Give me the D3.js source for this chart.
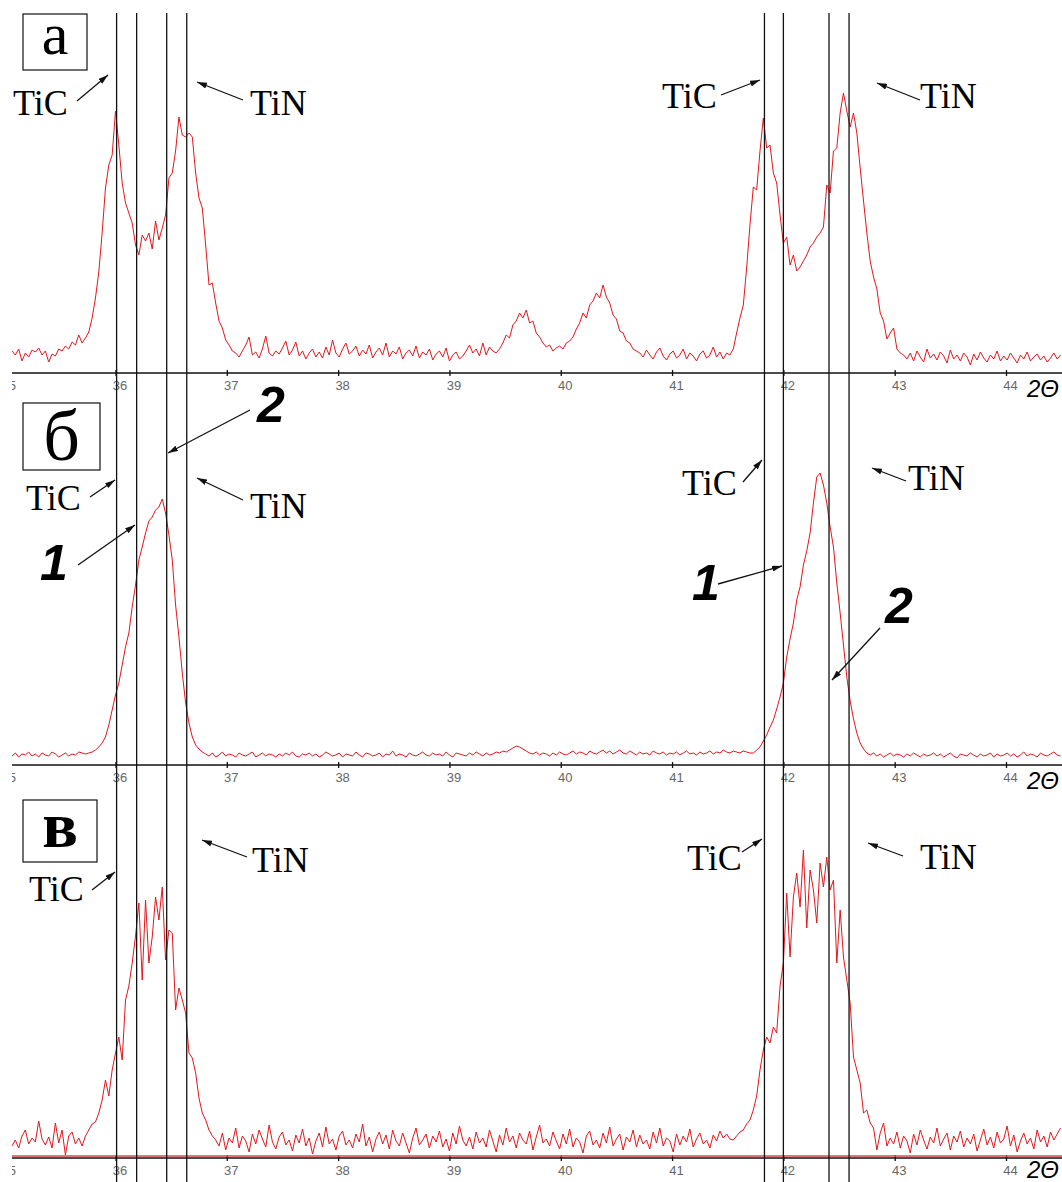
<!DOCTYPE html>
<html>
<head>
<meta charset="utf-8">
<script src="https://cdn.jsdelivr.net/npm/d3@7"></script>
<style>
  body { margin: 0; background: #fff; }
  svg { display: block; }
</style>
</head>
<body>
<div id="chart"></div>
<script>
// 2theta sampling of the three scans
var thetaStart = 35.07,
    thetaStep = 0.03;

var tickValues = [35, 36, 37, 38, 39, 40, 41, 42, 43, 44];

// vertical reference lines (TiC / TiN positions)
var markerLines = [36.01, 36.19, 36.46, 36.64, 41.83, 42.0, 42.41, 42.59];

// scan a
var intensityA = [
  22, 18, 24, 12, 20, 16, 23, 21, 25, 18, 22, 11, 19, 17, 24, 22, 27, 24, 31, 28, 38, 30,
  35, 41, 55, 75, 101, 140, 185, 208, 218, 262,
  228, 190, 170, 160, 150, 128, 118, 138, 132, 140,
  124, 152, 133, 145, 158, 195, 200, 222, 256, 238,
  236, 240, 236, 200, 175, 165, 128, 88, 90, 70,
  52, 45, 33, 28, 22,
  20, 16, 22, 28, 36, 18, 21, 15, 24, 37,
  20, 17, 22, 19, 25, 32, 18, 23, 31, 17,
  22, 14, 20, 24, 16, 21, 15, 26, 18, 33,
  20, 16, 24, 30, 19, 22, 27, 17, 23, 19,
  28, 15, 21, 25, 18, 30, 16, 22, 19, 26,
  14, 20, 23, 17, 27, 15, 21, 18, 24, 13,
  19, 22, 16, 25, 12, 18, 21, 14, 17, 22,
  28, 20, 24, 17, 30, 18, 26, 22, 20,
  24, 30, 38, 35, 48, 52, 60, 55, 63, 50,
  52, 40, 36, 30, 26, 28, 22, 25, 27, 24,
  30, 32, 36, 44, 50, 60, 55, 68, 72, 80,
  75, 88, 76, 70, 58, 54, 42, 40, 32, 30,
  24, 22,
  20, 16, 23, 18, 14, 21, 25, 17, 13, 19, 22, 15, 18, 24, 14, 20, 17, 12, 19, 22, 15, 18, 26, 16, 21, 14,
  20, 18, 24, 40, 55, 68, 105, 148, 186, 183,
  222, 255, 225, 228, 200, 190, 158, 130, 136, 108,
  118, 102, 106, 112, 118, 126, 130, 136, 140, 146,
  188, 180, 222, 225, 260, 280, 262, 246, 260, 240,
  205, 172, 140, 112, 96, 84, 60, 52, 34, 40,
  45, 24, 20,
  18, 14, 20, 12, 22, 16, 11, 24, 15, 19,
  13, 21, 17, 10, 23, 14, 18, 12, 20, 16,
  8, 19, 13, 21, 15, 11, 18, 14, 22, 12,
  17, 13, 20, 15, 10, 18, 14, 21, 12, 16,
  19, 13, 17, 11, 15, 20, 14, 18
];

// scan б
var intensityB = [
  9, 12, 8, 11, 10, 13, 9, 11, 8, 12, 10, 9, 13, 11, 8, 10, 12, 9, 11, 10, 13, 12, 11, 12,
  13, 15, 18, 22, 28, 40, 55, 70, 82, 100,
  118, 132, 158, 180, 205, 218, 232, 244, 248, 255,
  258, 266, 252, 230, 205, 160, 128, 92, 62, 42,
  28, 20, 16, 13,
  11, 9, 12, 8, 10, 13, 9, 11, 10, 8,
  12, 10, 9, 11, 13, 8, 10, 12, 9, 11,
  10, 8, 11, 9, 12, 10, 13, 9, 8, 11,
  10, 12, 9, 11, 8, 10, 13, 11, 9, 10,
  12, 8, 11, 10, 9, 13, 10, 8, 12, 11,
  9, 10, 12, 8, 11, 10, 14, 9, 11, 10,
  8, 12, 10, 9, 11, 13, 10, 9, 12, 10,
  11, 9, 13, 10, 8, 12, 11, 10, 9, 12,
  10, 13, 11, 9, 12, 10, 11, 13, 12, 14,
  13, 15, 17, 19, 18, 16, 14, 12, 11, 13,
  10, 12, 11, 9, 12, 10, 13, 11, 10, 12,
  14, 11, 13, 12, 10, 14, 12, 11, 13, 15,
  12, 14, 11, 13, 15, 12, 11, 14, 12, 10,
  13, 11, 12, 10, 14, 12, 11, 13, 10, 12,
  11, 13, 10, 12, 14, 11, 12, 10, 13, 11,
  12, 14, 11, 13, 12, 15, 13, 12, 14, 13,
  12, 14, 13, 12,
  12, 15, 18, 24, 30, 38, 45, 56, 68, 82,
  108, 126, 142, 165, 178, 200, 214, 232, 262, 288,
  292, 280, 262, 238, 218, 182, 152, 120, 88, 64,
  46, 32, 22, 16, 12,
  10, 12, 9, 11, 8, 10, 12, 9, 11, 10,
  8, 11, 9, 12, 10, 8, 11, 9, 10, 12,
  9, 11, 8, 10, 12, 9, 7, 11, 10, 9,
  12, 10, 8, 11, 9, 10, 12, 8, 11, 9,
  10, 12, 9, 11, 8, 10, 13, 9, 11, 10,
  8, 12, 10, 9, 11, 13, 10, 9
];

// scan в
var intensityV = [
  12, 18, 10, 22, 28, 14, 20, 16, 37, 19, 13, 21, 10, 35, 15, 28, 3, 22, 26, 14, 20, 12,
  22, 28, 34, 36, 45, 58, 78, 62, 88, 105,
  121, 98, 158, 172, 195, 222, 255, 178, 258, 195,
  221, 261, 238, 271, 198, 228, 225, 148, 170, 158,
  145, 105, 100, 85, 60, 45, 38, 28, 22,
  18, 12, 25, 8, 20, 15, 30, 10, 22, 17,
  6, 24, 14, 28, 19, 11, 33, 16, 9, 21,
  26, 13, 18, 7, 23, 15, 29, 12, 20, 4,
  17, 25, 11, 31, 14, 19, 8, 22, 27, 13,
  18, 10, 24, 16, 34, 12, 21, 6, 19, 26,
  14, 23, 9, 28, 17, 12, 25, 15, 5, 20,
  30, 13, 18, 24, 10, 22, 16, 27, 11, 19,
  7, 25, 14, 32, 18, 12, 21, 9, 26, 15,
  20, 11, 28, 17, 6, 23, 13, 30, 16, 22,
  10, 25, 18, 14, 27, 8, 21, 33, 15, 19,
  12, 26, 17, 9, 24, 14, 29, 11, 20, 16,
  5, 22, 27, 13, 18, 10, 25, 15, 31, 12,
  19, 24, 8, 21, 16, 28, 11, 23, 14, 18,
  9, 26, 15, 30, 12, 20, 17, 6, 24, 13,
  22, 16, 29, 11, 19, 25, 14, 18, 10, 23,
  17, 27, 20, 24, 19,
  18, 22, 26, 28, 34, 38, 48, 62, 88, 108,
  121, 115, 131, 125, 172, 195, 265, 201, 261, 285,
  251, 308, 230, 288, 268, 235, 295, 271, 301, 268,
  278, 195, 248, 201, 178, 155, 101, 88, 75, 45,
  48, 35, 30, 8, 25, 35, 12,
  20, 14, 26, 10, 22, 17, 5, 24, 13, 28,
  18, 9, 21, 15, 30, 12, 19, 25, 8, 22,
  16, 27, 11, 20, 14, 24, 7, 18, 29, 13,
  21, 10, 26, 15, 19, 32, 12, 23, 6, 17,
  25, 14, 20, 9, 28, 16, 22, 11, 26, 18,
  24, 30
];

var width = 1062, height = 1182;

var svg = d3.select("#chart")
  .append("svg")
    .attr("width", width)
    .attr("height", height)
    .style("background", "#fff");

var defs = svg.append("defs");
defs.append("clipPath").attr("id", "plotClip")
  .append("rect").attr("x", 12).attr("y", 0).attr("width", width - 12).attr("height", height);
defs.append("marker")
    .attr("id", "arrow")
    .attr("viewBox", "0 0 10 6")
    .attr("refX", 10).attr("refY", 3)
    .attr("markerWidth", 10).attr("markerHeight", 6)
    .attr("markerUnits", "userSpaceOnUse")
    .attr("orient", "auto")
  .append("path")
    .attr("d", "M0,0L10,3L0,6Z")
    .attr("fill", "#111");

var x = d3.scaleLinear().domain([36, 44]).range([115.5, 1006]);

var panels = [
  {letter: "а", data: intensityA, axisY: 373, box: [23, 14, 64, 56], size: 60, ly: 54, bold: false},
  {letter: "б", data: intensityB, axisY: 765, box: [23, 403, 77, 67], size: 72, ly: 460, bold: false},
  {letter: "в", data: intensityV, axisY: 1158, box: [23, 800, 74, 62], size: 66, ly: 847, bold: true}
];

var plot = svg.append("g").attr("clip-path", "url(#plotClip)");

panels.forEach(function(p) {
  var y = d3.scaleLinear().domain([0, 300]).range([p.axisY, p.axisY - 300]);

  // axis
  var axis = plot.append("g")
    .attr("transform", "translate(0," + p.axisY + ")")
    .call(d3.axisBottom(x).tickValues(tickValues).tickSize(3).tickSizeOuter(0).tickFormat(d3.format("d")));
  axis.select(".domain").remove();
  axis.append("line")
    .attr("x1", 12).attr("x2", width)
    .attr("stroke", "#111").attr("stroke-width", 1.3);
  axis.selectAll(".tick line").attr("y1", -3).attr("y2", 3).attr("stroke", "#111").attr("stroke-width", 1.3);
  axis.selectAll(".tick text")
    .attr("y", 17).attr("dy", null).attr("dx", 4)
    .attr("fill", "#666")
    .style("font-family", "Liberation Sans, Arial, sans-serif")
    .style("font-size", "13px");

  // red baseline for scan в
  if (p.letter === "в") {
    plot.append("line")
      .attr("x1", 12).attr("x2", width)
      .attr("y1", y(2)).attr("y2", y(2))
      .attr("stroke", "#d9484a").attr("stroke-width", 1.5);
  }

  // trace
  plot.append("path")
    .datum(p.data)
    .attr("fill", "none")
    .attr("stroke", "#e3161c")
    .attr("stroke-width", 1)
    .attr("d", d3.line()
      .x(function(d, i) { return x(thetaStart + i * thetaStep); })
      .y(function(d) { return y(d); }));

  svg.append("text")
    .attr("x", 1027).attr("y", Math.min(p.axisY + 24, height - 4))
    .style("font-family", "Liberation Sans, Arial, sans-serif")
    .style("font-style", "italic")
    .style("font-size", "24px")
    .text("2Θ");

  // panel letter in a box
  svg.append("rect")
    .attr("x", p.box[0]).attr("y", p.box[1])
    .attr("width", p.box[2]).attr("height", p.box[3])
    .attr("fill", "#fff").attr("stroke", "#111").attr("stroke-width", 1.2);
  svg.append("text")
    .attr("x", p.box[0] + p.box[2] / 2).attr("y", p.ly)
    .attr("text-anchor", "middle")
    .style("font-family", "Liberation Serif, Times New Roman, serif")
    .style("font-size", p.size + "px")
    .style("font-weight", p.bold ? "bold" : "normal")
    .text(p.letter);
});

// vertical reference lines
svg.append("g").selectAll("line")
  .data(markerLines)
  .enter()
  .append("line")
    .attr("x1", function(d) { return x(d); })
    .attr("x2", function(d) { return x(d); })
    .attr("y1", 13).attr("y2", height)
    .attr("stroke", "#111").attr("stroke-width", 1.3);

// phase labels and numbered arrows
var notes = [
  ["TiC", 13, 115, 77, 101, 108, 75],
  ["TiN", 250, 115, 243, 100, 197, 82],
  ["TiC", 662, 108, 721, 95, 760, 80],
  ["TiN", 920, 108, 920, 100, 877, 83],
  ["TiC", 26, 510, 90, 497, 115, 480],
  ["TiN", 250, 518, 243, 500, 197, 478],
  ["TiC", 682, 495, 743, 482, 762, 460],
  ["TiN", 908, 490, 906, 481, 872, 468],
  ["2", 257, 422, 250, 410, 168, 453],
  ["1", 40, 580, 78, 565, 135, 525],
  ["1", 692, 600, 718, 584, 782, 566],
  ["2", 885, 623, 880, 628, 832, 680],
  ["TiC", 29, 901, 92, 890, 115, 872],
  ["TiN", 252, 872, 247, 857, 202, 840],
  ["TiC", 687, 870, 742, 852, 762, 839],
  ["TiN", 920, 869, 903, 856, 868, 843]
];

var noteG = svg.append("g");
notes.forEach(function(n) {
  var isNum = n[0] === "1" || n[0] === "2";
  noteG.append("text")
    .attr("x", n[1]).attr("y", n[2])
    .style("font-family", isNum ? "Liberation Sans, Arial, sans-serif" : "Liberation Serif, Times New Roman, serif")
    .style("font-size", isNum ? "50px" : "36px")
    .style("font-weight", isNum ? "bold" : "normal")
    .style("font-style", isNum ? "italic" : "normal")
    .text(n[0]);
  noteG.append("line")
    .attr("x1", n[3]).attr("y1", n[4])
    .attr("x2", n[5]).attr("y2", n[6])
    .attr("stroke", "#111").attr("stroke-width", 1.3)
    .attr("marker-end", "url(#arrow)");
});
</script>
</body>
</html>
